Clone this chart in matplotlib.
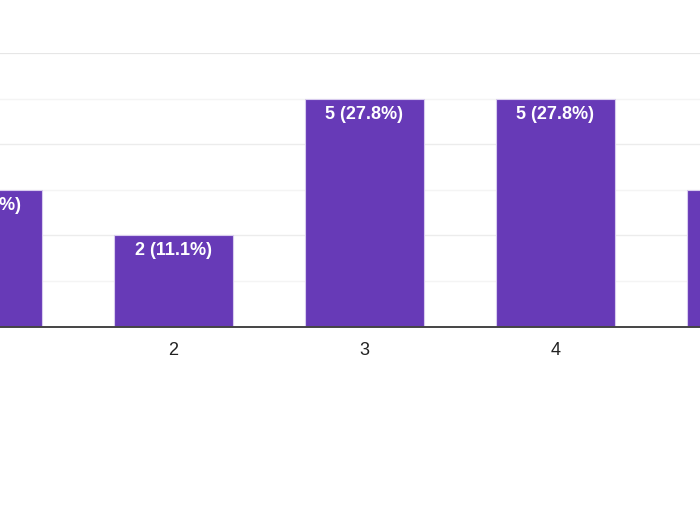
import matplotlib.pyplot as plt

# answers per rating (18 responses total)
ratings = [1, 2, 3, 4, 5]
counts = [3, 2, 5, 5, 3]
total = sum(counts)
labels = ['%d (%.1f%%)' % (c, 100 * c / total) for c in counts]

purple = '#673ab7'

plt.rcParams['font.family'] = ['Liberation Sans', 'DejaVu Sans']

fig = plt.figure(figsize=(7, 5.25), dpi=100)
# the chart is cropped, so the axes run past both sides of the picture
ax = fig.add_axes([0, 198.3 / 525, 1, (326.7 - 53) / 525])

ax.bar(ratings, counts, width=0.622, color=purple, edgecolor='#d8ccee',
       linewidth=0.8, zorder=3)

for x, c, lab in zip(ratings, counts, labels):
    ax.annotate(lab, (x, c), xytext=(0, -5), textcoords='offset points',
                ha='center', va='top', color='white', fontsize=13,
                fontweight='bold', zorder=4, annotation_clip=False)

# major lines on even counts, lighter ones on odd counts
for y in range(1, 7):
    if y == 6:
        ax.axhline(y, color='#e6e6e6', lw=1.6, zorder=1)
    elif y % 2 == 0:
        ax.axhline(y, color='#ececec', lw=1.0, zorder=1)
    else:
        ax.axhline(y, color='#f4f4f4', lw=1.0, zorder=1)

ax.set_xticks(ratings)
ax.set_xticklabels([str(r) for r in ratings], fontsize=13, color='#222222')
ax.tick_params(axis='x', length=0, pad=11)
ax.set_yticks([])

# limits last, set_xticks would widen them again
ax.set_xlim(2 - 173.3 / 191, 2 + (700 - 173.3) / 191)
ax.set_ylim(0, 6)

for s in ['top', 'left', 'right']:
    ax.spines[s].set_visible(False)
ax.spines['bottom'].set_color('#444444')
ax.spines['bottom'].set_linewidth(1.4)
ax.spines['bottom'].set_zorder(5)

fig.savefig('out.png', dpi=100)
